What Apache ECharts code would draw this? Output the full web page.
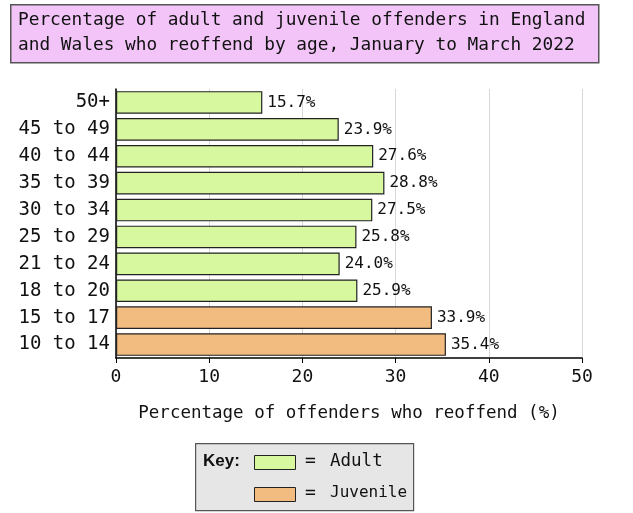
<!DOCTYPE html>
<html><head><meta charset="utf-8">
<script src="https://cdn.jsdelivr.net/npm/echarts@6/dist/echarts.min.js"></script>
<style>html,body{margin:0;padding:0;background:#fff}#c{width:633px;height:513px}</style>
</head><body><div id="c"></div>
<script>
const categories = ['10 to 14','15 to 17','18 to 20','21 to 24','25 to 29','30 to 34','35 to 39','40 to 44','45 to 49','50+'];
const values = [35.4, 33.9, 25.9, 24.0, 25.8, 27.5, 28.8, 27.6, 23.9, 15.7];
const groups = ['Juvenile','Juvenile','Adult','Adult','Adult','Adult','Adult','Adult','Adult','Adult'];
const xTicks = [0, 10, 20, 30, 40, 50];
const groupColors = {Adult: '#d8f8a0', Juvenile: '#f2bc80'};
const FONT = '"DejaVu Sans Mono", monospace';

const chart = echarts.init(document.getElementById('c'), null, {renderer: 'canvas'});
chart.setOption({
  animation: false,
  backgroundColor: '#fff',
  grid: {left: 116, right: 51, top: 89, bottom: 155, containLabel: false},
  xAxis: {
    type: 'value', min: xTicks[0], max: xTicks[xTicks.length - 1], interval: 10,
    axisLine: {show: true, lineStyle: {color: '#000', width: 1.5}},
    axisTick: {show: true, length: 5, lineStyle: {color: '#000'}},
    axisLabel: {color: '#111', fontSize: 18, fontFamily: FONT, margin: 10},
    splitLine: {show: true, lineStyle: {color: '#d8d8d8', width: 1}},
    name: 'Percentage of offenders who reoffend (%)',
    nameLocation: 'middle', nameGap: 46,
    nameTextStyle: {color: '#111', fontSize: 17.5, fontFamily: FONT}
  },
  yAxis: {
    type: 'category', data: categories,
    axisLine: {show: true, lineStyle: {color: '#000', width: 1.5}},
    axisTick: {show: false},
    axisLabel: {color: '#111', fontSize: 19, fontFamily: FONT, margin: 6}
  },
  series: [{
    type: 'bar',
    barCategoryGap: '16%',
    data: values.map((v, i) => ({value: v, itemStyle: {color: groupColors[groups[i]]}})),
    itemStyle: {borderColor: '#222', borderWidth: 1.2},
    label: {show: true, position: 'right', distance: 5, color: '#111', fontSize: 16, fontFamily: FONT,
      formatter: p => p.value.toFixed(1) + '%'}
  }],
  graphic: [
    {type: 'rect', left: 10, top: 4, shape: {width: 588, height: 58},
      style: {fill: '#f2c4f8', stroke: '#555', lineWidth: 1.5}},
    {type: 'text', left: 18, top: 8, style: {text: 'Percentage of adult and juvenile offenders in England\nand Wales who reoffend by age, January to March 2022',
      font: '17.8px ' + FONT, fill: '#111', lineHeight: 25}},
    {type: 'rect', left: 195, top: 443, shape: {width: 218, height: 67},
      style: {fill: '#e6e6e6', stroke: '#555', lineWidth: 1.2}},
    {type: 'text', left: 203, top: 453, style: {text: 'Key:', font: 'bold 17px "Liberation Sans", sans-serif', fill: '#111'}},
    {type: 'rect', left: 254, top: 455, shape: {width: 41, height: 14},
      style: {fill: groupColors.Adult, stroke: '#222', lineWidth: 1}},
    {type: 'text', left: 305, top: 452, style: {text: '=', font: '18px ' + FONT, fill: '#111'}},
    {type: 'text', left: 330, top: 452, style: {text: 'Adult', font: '17.5px ' + FONT, fill: '#111'}},
    {type: 'rect', left: 254, top: 487, shape: {width: 41, height: 14},
      style: {fill: groupColors.Juvenile, stroke: '#222', lineWidth: 1}},
    {type: 'text', left: 305, top: 484, style: {text: '=', font: '18px ' + FONT, fill: '#111'}},
    {type: 'text', left: 330, top: 485, style: {text: 'Juvenile', font: '16px ' + FONT, fill: '#111'}}
  ]
});
</script></body></html>
